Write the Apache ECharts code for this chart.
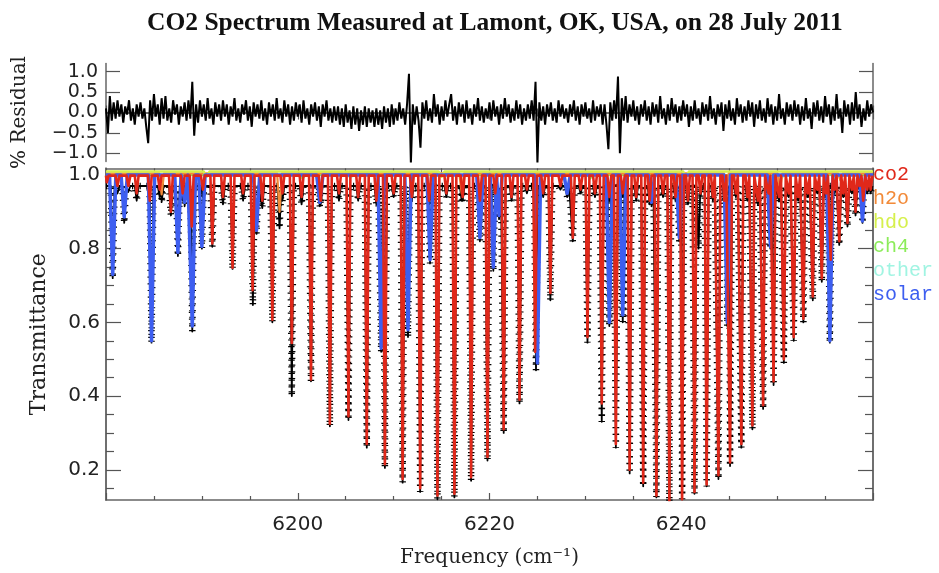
<!DOCTYPE html>
<html><head><meta charset="utf-8">
<script src="https://cdn.jsdelivr.net/npm/echarts@6/dist/echarts.min.js"></script>
<style>html,body{margin:0;padding:0;background:#fff}#c{width:939px;height:573px}</style>
</head><body><div id="c"></div>
<script>
// ---------------- data ----------------
const titleText = 'CO2 Spectrum Measured at Lamont, OK, USA, on 28 July 2011';
const xTickLabels = [6200, 6220, 6240];
const residTicks = [-1.0, -0.5, 0.0, 0.5, 1.0];
const transTicks = [0.2, 0.4, 0.6, 0.8, 1.0];
const transMinorTicks = [0.15,0.25,0.3,0.35,0.45,0.5,0.55,0.65,0.7,0.75,0.85,0.9,0.95];
const legendNames = ['co2', 'h2o', 'hdo', 'ch4', 'other', 'solar'];

// residual (%) sampled every 0.2 cm-1 from 6180
const residStart = 6180, residStep = 0.2;
const residual = [
 0.1,-0.5,0.4,-0.2,0.25,-0.15,0.3,-0.1,0.2,-0.25,0.15,-0.05,0.3,-0.2,0.1,-0.3,0.2,-0.1,0.25,-0.15,
 0.1,-0.35,-0.75,0.3,-0.2,0.45,-0.1,0.2,-0.3,0.35,-0.15,0.4,-0.2,0.1,-0.25,0.3,-0.05,0.2,-0.3,0.15,
 -0.1,0.25,-0.2,0.3,-0.15,0.75,-0.57,0.2,-0.25,0.3,-0.1,0.2,-0.2,0.35,-0.15,0.1,-0.3,0.25,-0.1,0.2,
 -0.2,0.3,-0.1,0.2,-0.3,0.15,-0.1,0.35,-0.2,0.1,-0.25,0.2,-0.05,0.3,-0.2,0.15,-0.35,0.25,-0.1,0.2,
 -0.15,0.3,-0.2,0.1,-0.3,0.25,-0.1,0.2,-0.2,0.35,-0.15,0.1,-0.25,0.3,-0.1,0.2,-0.3,0.15,-0.2,0.25,
 -0.1,0.2,-0.25,0.3,-0.15,0.1,-0.3,0.2,-0.1,0.25,-0.2,0.15,-0.35,0.2,-0.1,0.3,-0.2,0.1,-0.25,0.15,
 -0.2,0.15,-0.3,0.1,-0.35,0.2,-0.25,0.05,-0.4,0.15,-0.3,0.1,-0.45,0.05,-0.3,0.15,-0.35,0.1,-0.25,0.05,
 -0.35,0.1,-0.3,0.05,-0.4,0.15,-0.25,0.1,-0.35,0.2,-0.3,0.1,-0.2,0.25,-0.15,0.1,-0.3,0.2,0.95,-1.25,
 0.2,-0.3,0.15,-0.2,-0.86,0.25,-0.15,0.3,-0.2,0.1,-0.25,0.45,-0.1,0.2,-0.3,0.15,-0.2,0.3,-0.1,0.2,
 0.45,-0.2,0.15,-0.3,0.25,-0.1,0.2,-0.25,0.3,-0.15,0.1,-0.3,0.2,-0.1,0.35,-0.2,0.15,-0.25,0.1,-0.15,
 0.25,-0.2,0.3,-0.1,0.15,-0.3,0.2,-0.15,0.35,-0.1,0.2,-0.25,0.1,-0.2,0.3,-0.15,0.2,-0.3,0.1,-0.2,
 0.2,-0.15,0.3,-0.2,0.75,-1.25,0.25,-0.2,0.15,-0.3,0.2,-0.1,0.25,-0.2,0.1,-0.25,0.3,-0.1,0.2,-0.15,
 0.1,-0.25,0.2,-0.1,0.3,-0.2,0.15,-0.3,0.2,-0.1,0.25,-0.15,0.1,-0.25,0.3,-0.2,0.15,-0.1,0.2,-0.3,
 0.2,-0.3,-0.9,0.25,-0.2,0.3,-0.15,0.88,-1.0,0.35,-0.2,0.4,-0.25,0.2,-0.1,0.3,-0.2,0.15,-0.3,0.2,
 -0.1,0.3,-0.2,0.15,-0.3,0.25,-0.1,0.2,-0.25,0.4,-0.15,0.1,-0.3,0.2,-0.2,0.35,-0.1,0.2,-0.25,0.15,
 -0.2,0.3,-0.1,0.2,-0.35,0.15,-0.2,0.3,-0.15,0.1,-0.3,0.25,-0.1,0.2,-0.2,0.4,-0.15,0.1,-0.3,0.2,
 -0.1,0.25,-0.45,0.2,-0.15,0.3,-0.2,0.1,-0.3,0.35,-0.1,0.2,-0.25,0.15,-0.2,0.3,-0.1,0.25,-0.35,0.2,
 -0.15,0.3,-0.2,0.1,-0.25,0.35,-0.1,0.2,-0.3,0.15,-0.2,0.45,-0.15,0.1,-0.3,0.25,-0.1,0.2,-0.2,0.3,
 -0.1,0.2,-0.3,0.15,-0.2,0.35,-0.15,0.1,-0.4,0.25,-0.1,0.3,-0.2,0.15,-0.25,0.4,-0.1,0.2,-0.3,0.15,
 -0.2,0.45,-0.15,0.1,-0.5,0.3,-0.1,0.2,-0.3,0.25,-0.2,0.5,-0.15,0.2,-0.35,0.1,-0.2,0.3,-0.1,0.2,
 0.0
];

// CO2 model: strong line centres (cm-1) and minimum transmittance
const co2Pos = [6180.08,6182.34,6184.57,6186.77,6188.94,6191.09,6193.20,6195.29,6197.35,6199.38,
 6201.38,6203.35,6205.29,6207.20,6209.09,6210.94,6212.77,6214.57,6216.34,6218.08,6219.79,6221.48,
 6223.13,6224.76,6226.35,6228.69,6230.22,6231.71,6233.18,6234.62,6236.03,6237.41,6238.76,6240.09,
 6241.38,6242.65,6243.88,6245.09,6246.27,6247.42,6248.54,6249.63,6250.70,6251.73,6252.74,6253.72,
 6254.66,6255.59,6256.48,6257.34,6258.18,6258.98,6259.75];
const co2Depth = [0.98,0.97,0.93,0.90,0.86,0.814,0.748,0.687,0.607,0.544,
 0.445,0.325,0.345,0.27,0.215,0.175,0.15,0.13,0.135,0.18,0.235,0.31,
 0.39,0.52,0.68,0.83,0.56,0.38,0.27,0.20,0.165,0.13,0.115,0.12,
 0.14,0.16,0.185,0.22,0.27,0.32,0.375,0.44,0.50,0.56,0.61,0.67,
 0.72,0.77,0.82,0.87,0.90,0.93,0.96];
// CO2 model: weak (hot-band / isotope) lines near the continuum
const co2WeakPos = [6181.2,6183.2,6185.6,6188.0,6190.1,6192.2,6194.3,6196.3,6198.4,6200.4,6202.4,6204.3,
 6206.3,6208.2,6210.0,6211.9,6213.7,6215.5,6217.2,6219.0,6220.6,6222.3,6223.9,6225.6,6227.4,6229.5,
 6231.0,6232.5,6233.9,6235.3,6236.7,6238.1,6239.4,6240.7,6242.0,6243.3,6244.5,6245.7,6246.9,6248.0,
 6249.1,6250.2,6251.2,6252.2,6253.2,6254.2,6255.1,6256.0,6256.9,6257.8,6258.6,6259.4];
const co2WeakDepth = [0.97,0.95,0.96,0.95,0.96,0.94,0.95,0.93,0.95,0.94,0.93,0.95,
 0.94,0.93,0.95,0.94,0.93,0.95,0.94,0.93,0.95,0.94,0.96,0.95,0.97,0.96,
 0.95,0.94,0.95,0.94,0.93,0.95,0.94,0.93,0.95,0.94,0.93,0.95,0.94,0.93,
 0.95,0.94,0.95,0.94,0.95,0.96,0.95,0.96,0.95,0.96,0.97,0.96];

// solar lines
const solarPos = [6180.7,6181.9,6184.75,6187.5,6188.2,6189.0,6190.0,6195.7,6202.3,6208.7,6211.5,6213.8,
 6219.0,6220.4,6221.0,6225.0,6228.1,6232.5,6233.9,6236.9,6239.8,6244.8,6249.3,6255.5,6258.9];
const solarDepth = [0.73,0.886,0.55,0.79,0.926,0.59,0.806,0.85,0.926,0.53,0.58,0.77,
 0.83,0.75,0.89,0.49,0.95,0.60,0.62,0.926,0.83,0.60,0.806,0.55,0.875];

// water and minor-gas lines
const h2oPos = [6185.8,6198.1,6217.1,6244.7,6250.3,6256.6];
const h2oDepth = [0.947,0.90,0.95,0.95,0.96,0.985];
const hdoPos = [6190.5,6215.0,6240.5];
const hdoDepth = [0.995,0.995,0.995];
const ch4Pos = [6200.5,6230.5];
const ch4Depth = [0.99,0.99];
const otherPos = [6205.5,6250.5];
const otherDepth = [0.992,0.992];

// measured spectrum (black): strong minima
const obsPos = [6180.08,6180.7,6181.9,6182.34,6184.75,6185.8,6186.77,6187.5,6188.2,6189.0,6190.0,6191.09,
 6193.20,6195.32,6195.7,6197.35,6198.1,6199.38,6201.38,6202.3,6203.35,6205.29,6207.20,6208.7,6209.09,
 6210.94,6211.5,6212.77,6213.8,6214.57,6216.34,6217.1,6218.08,6219.0,6219.79,6220.4,6221.0,6221.48,
 6223.13,6224.85,6226.35,6228.1,6228.69,6230.22,6231.71,6232.5,6233.18,6233.9,6234.62,6236.03,6236.9,
 6237.41,6238.76,6239.8,6240.09,6241.38,6241.8,6242.65,6243.88,6244.8,6245.09,6246.27,6247.42,6248.54,
 6249.3,6249.63,6250.70,6251.73,6252.74,6253.72,6254.66,6255.5,6255.59,6256.48,6257.34,6258.18,
 6258.9,6259.75];
const obsDepth = [0.965,0.72,0.87,0.955,0.545,0.926,0.89,0.78,0.915,0.575,0.80,0.805,
 0.745,0.647,0.84,0.60,0.855,0.40,0.44,0.915,0.318,0.335,0.26,0.52,0.205,
 0.165,0.56,0.14,0.76,0.12,0.125,0.93,0.17,0.82,0.225,0.74,0.88,0.30,
 0.38,0.47,0.66,0.94,0.82,0.545,0.33,0.59,0.26,0.60,0.19,0.155,0.915,
 0.125,0.112,0.82,0.12,0.135,0.80,0.155,0.175,0.59,0.21,0.26,0.31,0.365,
 0.80,0.43,0.49,0.55,0.60,0.66,0.71,0.545,0.76,0.81,0.86,0.89,
 0.87,0.95];
// measured spectrum (black): weak minima near the continuum
const obsWeakPos = co2WeakPos;
const obsWeakDepth = [0.95,0.93,0.94,0.93,0.94,0.92,0.93,0.91,0.93,0.92,0.92,0.93,
 0.93,0.92,0.94,0.93,0.92,0.94,0.93,0.92,0.94,0.93,0.95,0.94,0.96,0.95,
 0.94,0.93,0.94,0.93,0.92,0.94,0.93,0.92,0.94,0.93,0.92,0.94,0.93,0.92,
 0.94,0.93,0.94,0.93,0.94,0.95,0.94,0.95,0.94,0.95,0.96,0.95];

// ---------------- build ----------------
const colors = {co2:'#e0281a', h2o:'#f28a38', hdo:'#d6f04c', ch4:'#8cec5a', other:'#a0f4e2', solar:'#3d5ef0'};
const X0 = 6180, X1 = 6260;

function shape(pos, depth, hw, cont) {
  const idx = pos.map((p, i) => i).sort((a, b) => pos[a] - pos[b]);
  const out = [[X0, cont]];
  idx.forEach(i => { out.push([pos[i] - hw, cont], [pos[i], depth[i]], [pos[i] + hw, cont]); });
  out.push([X1, cont]);
  return out;
}
const residData = residual.map((v, i) => [residStart + i * residStep, v]);

const GL = 106, GR = 66;
const grids = [
  {left: GL, right: GR, top: 63.5, height: 98},
  {left: GL, right: GR, top: 168.3, height: 338.4}
];
const axisLine = {show: true, lineStyle: {color: '#666', width: 1.5}};
const tickFont = {fontFamily: 'DejaVu Sans', color: '#222'};

function xAx(grid, pos, labels) {
  return {
    type: 'value', gridIndex: grid, position: pos, min: X0, max: X1, interval: 20,
    axisLine, splitLine: {show: false},
    axisTick: {show: true, inside: true, length: 7, lineStyle: {color: '#555', width: 1.2}},
    minorTick: {show: true, splitNumber: 4, length: 4, lineStyle: {color: '#555', width: 1.2}},
    axisLabel: labels ? {show: true, margin: 15, fontSize: 20, ...tickFont,
      formatter: v => (xTickLabels.indexOf(v) >= 0 ? String(v) : '')} : {show: false}
  };
}
function yAx(grid, pos, min, max, values, len, label, extra) {
  return Object.assign({
    type: 'value', gridIndex: grid, position: pos, min, max,
    axisLine, splitLine: {show: false},
    axisTick: {show: true, inside: true, length: len, customValues: values, lineStyle: {color: '#555', width: 1.2}},
    axisLabel: label ? Object.assign({show: true, customValues: values}, label) : {show: false}
  }, extra || {});
}

const xAxis = [
  xAx(0, 'bottom', false), xAx(0, 'top', false),
  Object.assign(xAx(1, 'bottom', true), {
    name: 'Frequency (cm⁻¹)', nameLocation: 'middle', nameGap: 48,
    nameTextStyle: {fontFamily: 'DejaVu Serif', fontSize: 20, color: '#222'}
  }),
  xAx(1, 'top', false)
];
const yAxis = [
  yAx(0, 'left', -1.2, 1.2, residTicks, 14, {fontSize: 19, margin: 8, ...tickFont,
    formatter: v => (v < 0 ? '\u2212' : '') + Math.abs(v).toFixed(1)},
    {name: '% Residual', nameLocation: 'middle', nameGap: 76,
     nameTextStyle: {fontFamily: 'DejaVu Serif', fontSize: 20, color: '#222'}}),
  yAx(0, 'right', -1.2, 1.2, residTicks, 14, null),
  yAx(1, 'left', 0.118, 1.018, transTicks, 15, {fontSize: 20, margin: 6, ...tickFont,
    formatter: v => v.toFixed(1)},
    {name: 'Transmittance', nameLocation: 'middle', nameGap: 56,
     nameTextStyle: {fontFamily: 'DejaVu Serif', fontSize: 22, color: '#222'}}),
  yAx(1, 'left', 0.118, 1.018, transMinorTicks, 8, null),
  yAx(1, 'right', 0.118, 1.018, transTicks, 15, null),
  yAx(1, 'right', 0.118, 1.018, transMinorTicks, 8, null)
];

function ln(name, data, color, width, z, extra) {
  return Object.assign({
    name, type: 'line', xAxisIndex: 2, yAxisIndex: 2, data, showSymbol: false, symbol: 'none',
    lineStyle: {color, width, join: 'round'}, itemStyle: {color}, z, silent: true
  }, extra || {});
}
const obsData = shape(obsPos.concat(obsWeakPos), obsDepth.concat(obsWeakDepth), 0.2, 0.97);
const co2Data = shape(co2Pos.concat(co2WeakPos), co2Depth.concat(co2WeakDepth), 0.2, 0.998);
const series = [
  {name: 'residual', type: 'line', xAxisIndex: 0, yAxisIndex: 0, data: residData, symbol: 'none',
   lineStyle: {color: '#000', width: 2}, z: 2, silent: true},
  ln('measured+', obsData, '#000', 6.5, 1, {lineStyle: {color: '#000', width: 6.5, type: [1.2, 5.5]}}),
  ln('measured', obsData, '#000', 1.8, 2),
  ln('other', shape(otherPos, otherDepth, 0.3, 0.999), colors.other, 2, 3),
  ln('ch4', shape(ch4Pos, ch4Depth, 0.3, 1.0), colors.ch4, 2, 3),
  ln('h2o', shape(h2oPos, h2oDepth, 0.25, 1.004), colors.h2o, 2.2, 4),
  ln('hdo', shape(hdoPos, hdoDepth, 0.3, 1.009), colors.hdo, 2.5, 4),
  ln('solar', shape(solarPos, solarDepth, 0.33, 1.0), colors.solar, 3.5, 5),
  ln('co2', co2Data, colors.co2, 2.6, 6)
];

const option = {
  animation: false,
  backgroundColor: '#fff',
  title: {text: titleText, left: 142, top: 5,
    textStyle: {fontFamily: 'Liberation Serif', fontWeight: 'bold', fontSize: 25.5, color: '#111'}},
  legend: {
    orient: 'vertical', left: 873, top: 165, itemGap: 4, itemWidth: 0, itemHeight: 0, padding: 0,
    selectedMode: false,
    data: legendNames.map(n => ({name: n, icon: 'none',
      textStyle: {color: colors[n], fontFamily: 'Liberation Mono', fontSize: 20, padding: [0, 0, 0, -5]}}))
  },
  grid: grids, xAxis, yAxis, series
};
echarts.init(document.getElementById('c'), null, {renderer: 'canvas'}).setOption(option);
</script></body></html>
